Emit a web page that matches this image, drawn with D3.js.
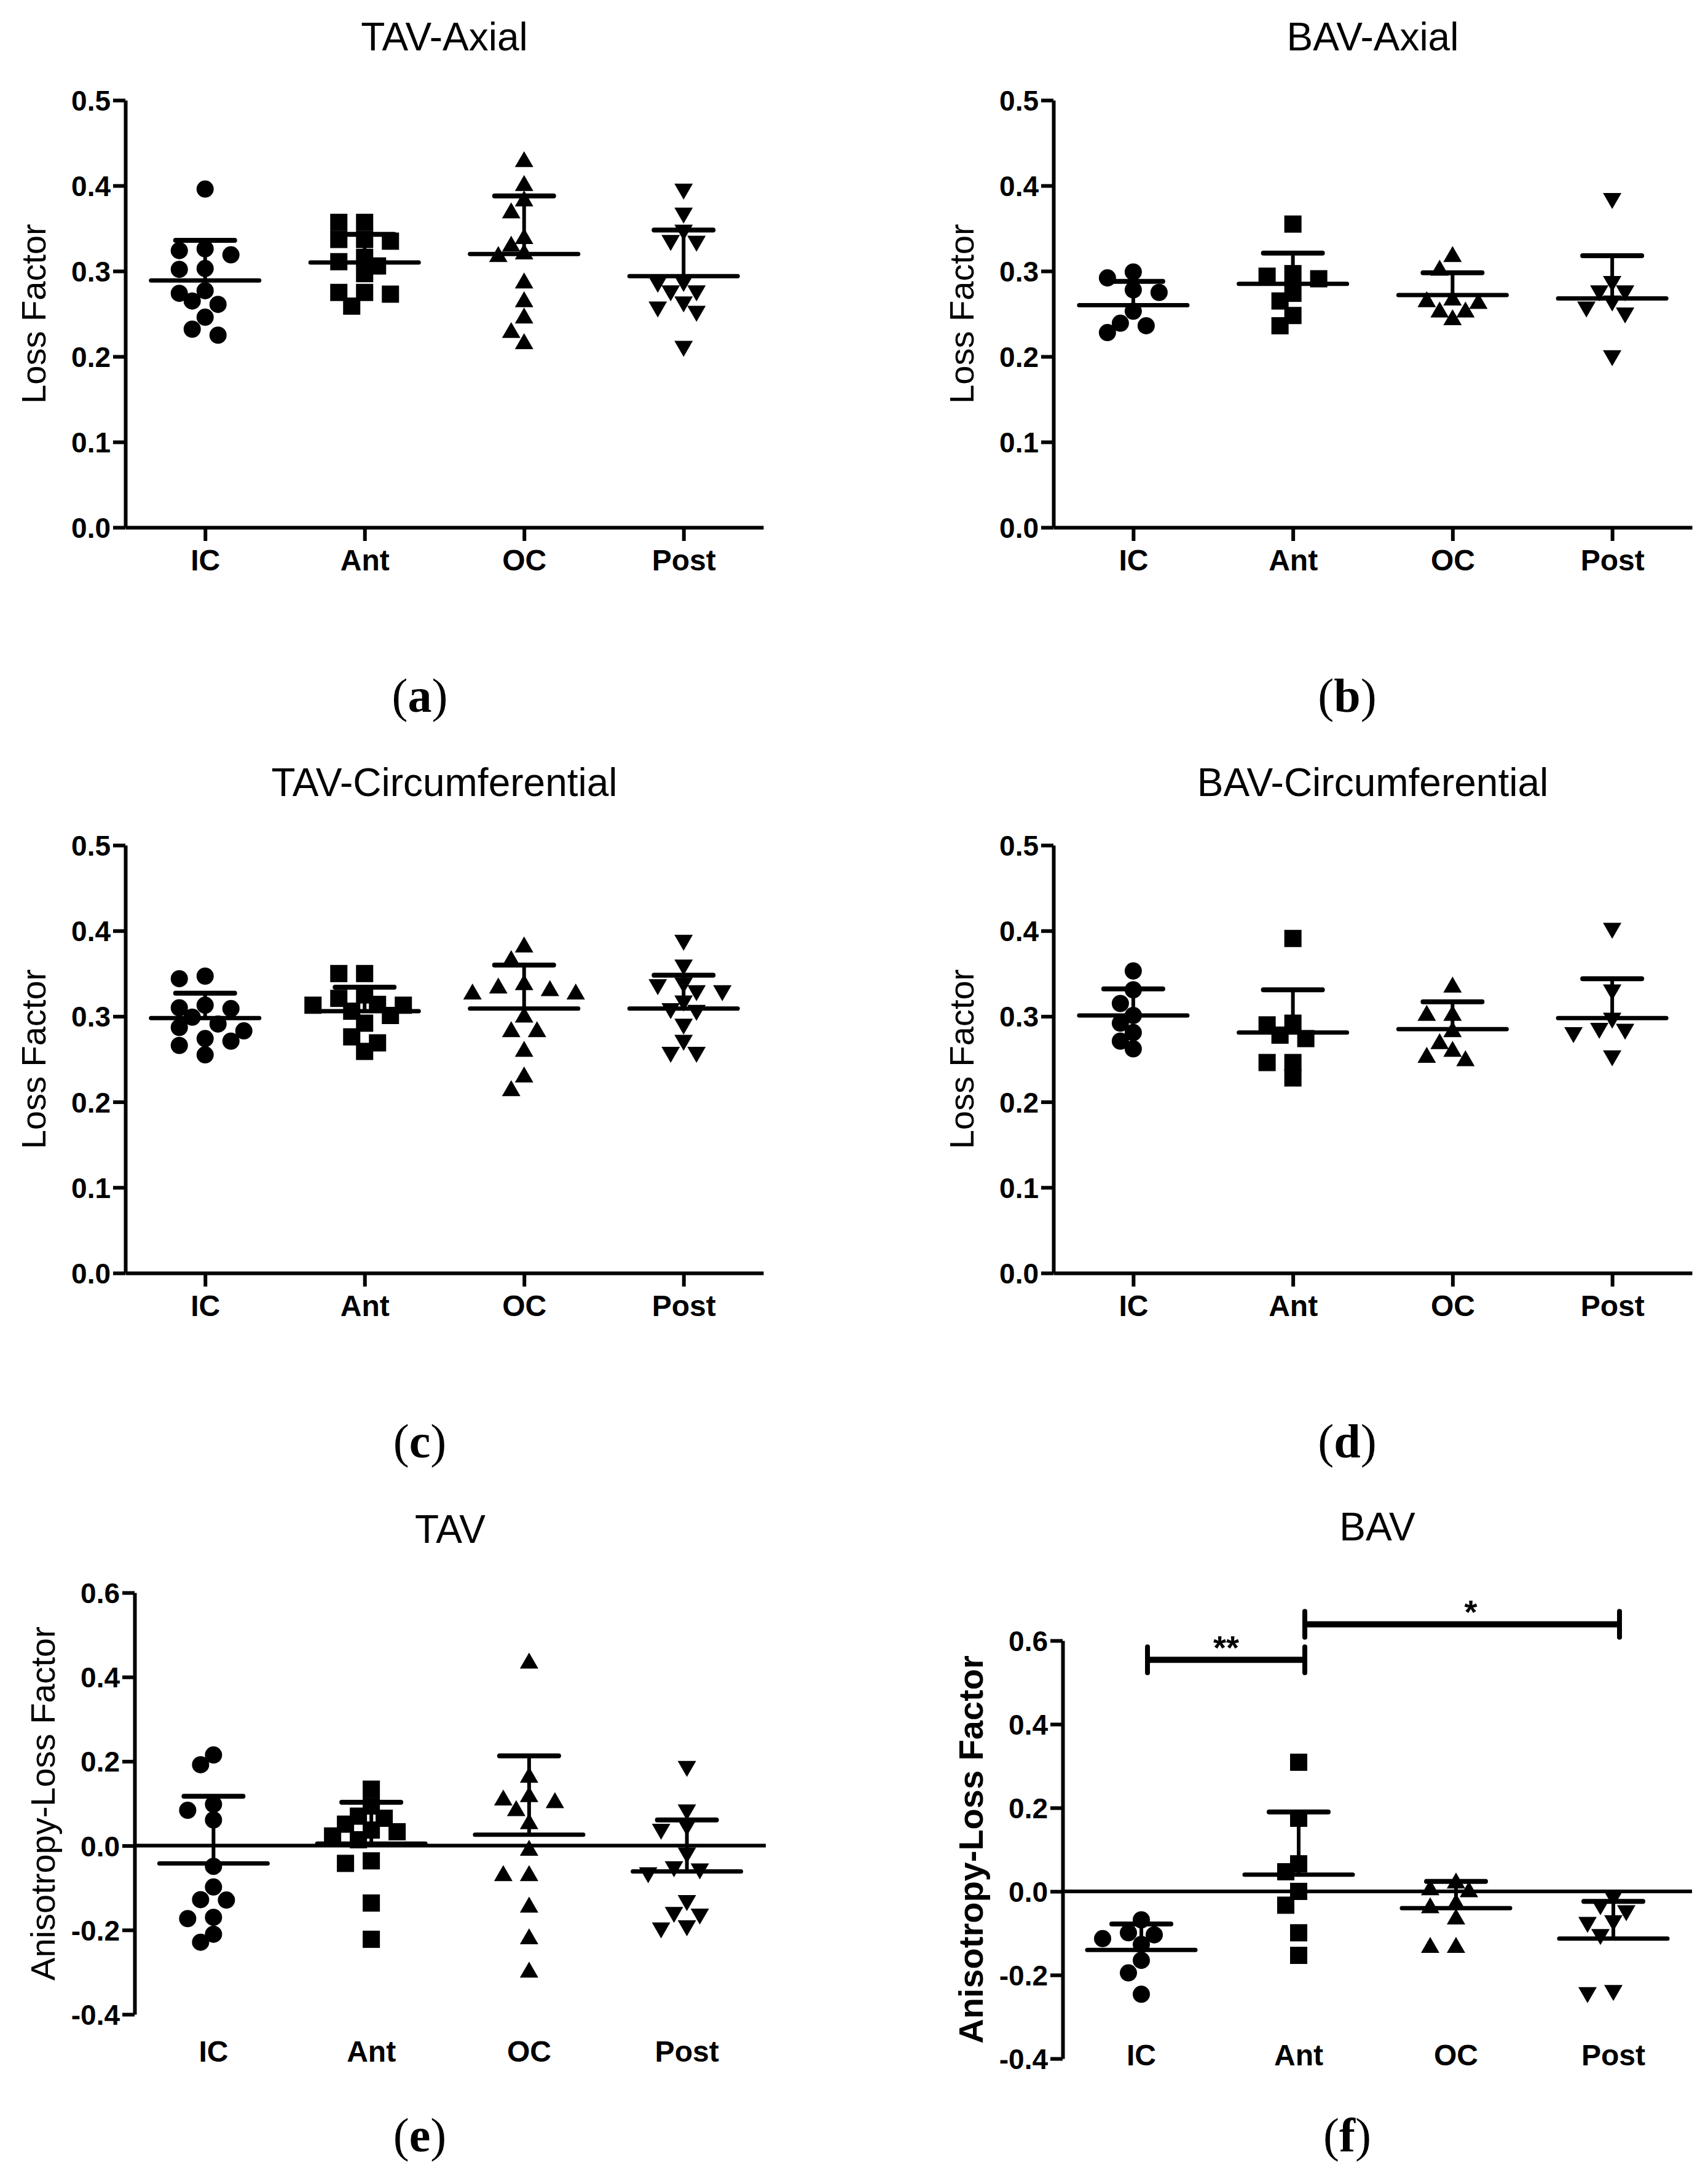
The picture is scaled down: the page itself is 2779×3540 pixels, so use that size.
<!DOCTYPE html>
<html lang="en">

<head>
  <meta charset="UTF-8">
  <title>Loss factor by region</title>
  <style>
    body { margin: 0; background: #fff; }
    text { font-family: "Liberation Sans", Arial, sans-serif; fill: #000; }
  </style>
</head>

<body>
  <svg width="2779" height="3540" class="figure"></svg>
  <script src="https://cdn.jsdelivr.net/npm/d3@7/dist/d3.min.js"></script>
  <script>
    const categories = ['IC', 'Ant', 'OC', 'Post']

    // (a) TAV-Axial
    const tavAxial = [
      [0.396, 0.326, 0.324, 0.319, 0.303, 0.302, 0.277, 0.274, 0.265, 0.261, 0.246, 0.232, 0.225],
      [0.357, 0.357, 0.337, 0.337, 0.335, 0.316, 0.311, 0.306, 0.297, 0.275, 0.275, 0.273, 0.259],
      [0.431, 0.403, 0.385, 0.371, 0.341, 0.332, 0.323, 0.320, 0.289, 0.267, 0.248, 0.231, 0.218],
      [0.393, 0.365, 0.345, 0.333, 0.332, 0.285, 0.284, 0.274, 0.274, 0.261, 0.255, 0.250, 0.209]
    ]
    const tavAxialMean = [0.289, 0.310, 0.320, 0.294]
    const tavAxialUpper = [0.336, 0.343, 0.388, 0.348]

    // (b) BAV-Axial
    const bavAxial = [
      [0.299, 0.292, 0.278, 0.275, 0.253, 0.239, 0.236, 0.228],
      [0.355, 0.297, 0.294, 0.291, 0.274, 0.265, 0.248, 0.236],
      [0.320, 0.304, 0.269, 0.267, 0.265, 0.255, 0.255, 0.246],
      [0.382, 0.285, 0.274, 0.274, 0.262, 0.255, 0.248, 0.198]
    ]
    const bavAxialMean = [0.260, 0.285, 0.272, 0.268]
    const bavAxialUpper = [0.288, 0.321, 0.298, 0.318]

    // (c) TAV-Circumferential
    const tavCirc = [
      [0.347, 0.344, 0.313, 0.310, 0.309, 0.299, 0.291, 0.287, 0.283, 0.274, 0.271, 0.266, 0.255],
      [0.350, 0.350, 0.325, 0.321, 0.314, 0.313, 0.313, 0.306, 0.301, 0.292, 0.276, 0.269, 0.259],
      [0.384, 0.368, 0.340, 0.336, 0.333, 0.329, 0.329, 0.302, 0.285, 0.285, 0.262, 0.232, 0.216],
      [0.386, 0.357, 0.336, 0.334, 0.327, 0.327, 0.315, 0.306, 0.304, 0.288, 0.269, 0.255, 0.255]
    ]
    const tavCircMean = [0.298, 0.306, 0.309, 0.309]
    const tavCircUpper = [0.327, 0.334, 0.360, 0.348]

    // (d) BAV-Circumferential
    const bavCirc = [
      [0.353, 0.331, 0.315, 0.301, 0.292, 0.281, 0.271, 0.262],
      [0.391, 0.292, 0.290, 0.278, 0.274, 0.246, 0.246, 0.228],
      [0.337, 0.304, 0.304, 0.285, 0.271, 0.262, 0.255, 0.251],
      [0.400, 0.328, 0.295, 0.283, 0.282, 0.278, 0.251]
    ]
    const bavCircMean = [0.301, 0.281, 0.285, 0.298]
    const bavCircUpper = [0.332, 0.331, 0.317, 0.344]

    // (e) TAV anisotropy
    const tavAniso = [
      [0.215, 0.192, 0.098, 0.084, 0.061, -0.049, -0.098, -0.128, -0.129, -0.170, -0.173, -0.210, -0.229],
      [0.134, 0.094, 0.070, 0.065, 0.051, 0.037, 0.033, 0.023, 0.014, -0.036, -0.042, -0.136, -0.222],
      [0.439, 0.168, 0.122, 0.114, 0.108, 0.089, 0.058, -0.005, -0.065, -0.065, -0.140, -0.215, -0.294],
      [0.182, 0.079, 0.042, 0.033, -0.023, -0.056, -0.061, -0.070, -0.136, -0.164, -0.168, -0.196, -0.201]
    ]
    const tavAnisoMean = [-0.042, 0.005, 0.026, -0.061]
    const tavAnisoUpper = [0.117, 0.103, 0.213, 0.061]

    // (f) BAV anisotropy
    const bavAniso = [
      [-0.068, -0.099, -0.104, -0.113, -0.127, -0.165, -0.195, -0.246],
      [0.309, 0.175, 0.066, 0.047, 0.000, -0.033, -0.099, -0.153],
      [0.026, 0.010, 0.005, -0.024, -0.033, -0.060, -0.128, -0.128],
      [-0.019, -0.038, -0.052, -0.076, -0.080, -0.109, -0.243, -0.248]
    ]
    const bavAnisoMean = [-0.140, 0.040, -0.040, -0.113]
    const bavAnisoUpper = [-0.078, 0.190, 0.024, -0.024]

    const lossTicks = [0, 0.1, 0.2, 0.3, 0.4, 0.5]
    const anisoTicks = [-0.4, -0.2, 0, 0.2, 0.4, 0.6]

    const sigPairs = [['IC', 'Ant'], ['Ant', 'Post']]
    const sigLevels = [0.554, 0.639]
    const sigLabels = ['**', '*']

    const svg = d3.select('.figure')

    const panels = [
      { letter: 'a', title: 'TAV-Axial', data: tavAxial, mean: tavAxialMean, upper: tavAxialUpper,
        yLabel: 'Loss Factor', domain: [0, 0.5], ticks: lossTicks,
        left: 204, right: 1242, top: 163, bottom: 858, titleY: 82, letterX: 683, letterY: 1158 },
      { letter: 'b', title: 'BAV-Axial', data: bavAxial, mean: bavAxialMean, upper: bavAxialUpper,
        yLabel: 'Loss Factor', domain: [0, 0.5], ticks: lossTicks,
        left: 1714, right: 2753, top: 163, bottom: 858, titleY: 82, letterX: 2192, letterY: 1158 },
      { letter: 'c', title: 'TAV-Circumferential', data: tavCirc, mean: tavCircMean, upper: tavCircUpper,
        yLabel: 'Loss Factor', domain: [0, 0.5], ticks: lossTicks,
        left: 204, right: 1242, top: 1375, bottom: 2071, titleY: 1295, letterX: 683, letterY: 2371 },
      { letter: 'd', title: 'BAV-Circumferential', data: bavCirc, mean: bavCircMean, upper: bavCircUpper,
        yLabel: 'Loss Factor', domain: [0, 0.5], ticks: lossTicks,
        left: 1714, right: 2753, top: 1375, bottom: 2071, titleY: 1295, letterX: 2192, letterY: 2371 },
      { letter: 'e', title: 'TAV', data: tavAniso, mean: tavAnisoMean, upper: tavAnisoUpper,
        yLabel: 'Anisotropy-Loss Factor', domain: [-0.4, 0.6], ticks: anisoTicks, zeroLine: true,
        left: 219, right: 1246, top: 2591, bottom: 3277, titleY: 2510, catY: 3354, letterX: 683, letterY: 3500 },
      { letter: 'f', title: 'BAV', data: bavAniso, mean: bavAnisoMean, upper: bavAnisoUpper,
        yLabel: 'Anisotropy-Loss Factor', boldLabel: true, domain: [-0.4, 0.6], ticks: anisoTicks, zeroLine: true,
        left: 1729, right: 2753, top: 2669, bottom: 3349, titleY: 2506, catY: 3360, letterX: 2192, letterY: 3500,
        sig: true }
    ]

    // place points of one column side by side when they would overlap (GraphPad-like)
    function swarm(values, cx, y, step, minDist) {
      const order = d3.range(values.length).sort((a, b) => values[b] - values[a])
      const placed = []
      const xs = []
      order.forEach(i => {
        const py = y(values[i])
        for (let k = 0; k < 30; k++) {
          const slot = k === 0 ? 0 : (k % 2 ? -Math.ceil(k / 2) : Math.ceil(k / 2))
          const px = cx + slot * step
          if (placed.every(q => Math.hypot(q[0] - px, q[1] - py) >= minDist)) {
            xs[i] = px
            placed.push([px, py])
            break
          }
        }
      })
      return xs
    }

    const circle = d3.symbol().type(d3.symbolCircle).size(616)()
    const square = d3.symbol().type(d3.symbolSquare).size(784)()
    const triangle = d3.symbol().type(d3.symbolTriangle).size(390)()

    function marker(g, ci, px, py) {
      if (ci === 0) g.append('path').attr('d', circle).attr('transform', `translate(${px},${py})`)
      if (ci === 1) g.append('path').attr('d', square).attr('transform', `translate(${px},${py})`)
      if (ci === 2) g.append('path').attr('d', triangle).attr('transform', `translate(${px},${py + 4.3})`)
      if (ci === 3) g.append('path').attr('d', triangle).attr('transform', `translate(${px},${py - 4.3}) rotate(180)`)
    }

    panels.forEach(p => {
      const g = svg.append('g').attr('class', 'panel-' + p.letter)

      const xScale = d3.scalePoint()
        .domain(categories)
        .range([p.left, p.right])
        .padding(0.5)

      const yScale = d3.scaleLinear()
        .domain(p.domain)
        .range([p.bottom, p.top])

      // y axis
      const yAxis = d3.axisLeft(yScale)
        .tickValues(p.ticks)
        .tickSize(20)
        .tickSizeOuter(0)
        .tickPadding(4)
        .tickFormat(d => d.toFixed(1))
      const ya = g.append('g')
        .attr('transform', `translate(${p.left}, 0)`)
        .call(yAxis)
        .attr('font-size', 46)
        .attr('font-weight', 'bold')
        .attr('font-family', '"Liberation Sans", Arial, sans-serif')
      ya.selectAll('path, line').attr('stroke-width', 6)
      ya.selectAll('.tick text').attr('dy', '0.36em')

      if (p.zeroLine) {
        g.append('line')
          .attr('x1', p.left).attr('x2', p.right)
          .attr('y1', yScale(0)).attr('y2', yScale(0))
          .attr('stroke', '#000').attr('stroke-width', 6)
        categories.forEach(c => {
          g.append('text')
            .text(c)
            .attr('x', xScale(c))
            .attr('y', p.catY)
            .attr('text-anchor', 'middle')
            .attr('font-size', 48)
            .attr('font-weight', 'bold')
        })
      } else {
        const xAxis = d3.axisBottom(xScale)
          .tickSize(22)
          .tickSizeOuter(0)
          .tickPadding(14)
        const xa = g.append('g')
          .attr('transform', `translate(0, ${p.bottom})`)
          .call(xAxis)
          .attr('font-size', 48)
          .attr('font-weight', 'bold')
          .attr('font-family', '"Liberation Sans", Arial, sans-serif')
        xa.selectAll('path, line').attr('stroke-width', 6)
      }

      // data points
      p.data.forEach((vals, ci) => {
        const cx = xScale(categories[ci])
        const xs = swarm(vals, cx, yScale, 21, 24)
        vals.forEach((v, i) => marker(g, ci, xs[i], yScale(v)))
      })

      // mean with upper SD bar
      p.mean.forEach((m, ci) => {
        const cx = xScale(categories[ci])
        g.append('line')
          .attr('x1', cx).attr('x2', cx)
          .attr('y1', yScale(m)).attr('y2', yScale(p.upper[ci]))
          .attr('stroke', '#000').attr('stroke-width', 6)
        g.append('line')
          .attr('x1', cx - 48).attr('x2', cx + 48)
          .attr('y1', yScale(p.upper[ci])).attr('y2', yScale(p.upper[ci]))
          .attr('stroke', '#000').attr('stroke-width', 8).attr('stroke-linecap', 'round')
        g.append('line')
          .attr('x1', cx - 88).attr('x2', cx + 88)
          .attr('y1', yScale(m)).attr('y2', yScale(m))
          .attr('stroke', '#000').attr('stroke-width', 7).attr('stroke-linecap', 'round')
      })

      // significance brackets
      if (p.sig) {
        sigPairs.forEach((pair, i) => {
          const x1 = xScale(pair[0]) + 10
          const x2 = xScale(pair[1]) + 10
          const yy = yScale(sigLevels[i])
          g.append('line')
            .attr('x1', x1).attr('x2', x2).attr('y1', yy).attr('y2', yy)
            .attr('stroke', '#000').attr('stroke-width', 10)
          ;[x1, x2].forEach(xx => {
            g.append('line')
              .attr('x1', xx).attr('x2', xx).attr('y1', yy - 21).attr('y2', yy + 21)
              .attr('stroke', '#000').attr('stroke-width', 8).attr('stroke-linecap', 'round')
          })
          g.append('text')
            .text(sigLabels[i])
            .attr('x', (x1 + x2) / 2 + (sigLabels[i].length === 1 ? 14 : 0))
            .attr('y', yy - 1)
            .attr('text-anchor', 'middle')
            .attr('font-size', 54)
            .attr('font-weight', 'bold')
        })
      }

      // title
      g.append('text')
        .text(p.title)
        .attr('x', (p.left + p.right) / 2)
        .attr('y', p.titleY)
        .attr('text-anchor', 'middle')
        .attr('font-size', 64)

      // y label
      g.append('text')
        .text(p.yLabel)
        .attr('transform', `translate(${p.left - 150}, ${(p.top + p.bottom) / 2}) rotate(-90)`)
        .attr('text-anchor', 'middle')
        .attr('dy', '0.36em')
        .attr('font-size', 56)
        .attr('font-weight', p.boldLabel ? 'bold' : 'normal')

      // panel letter
      const lt = g.append('text')
        .attr('x', p.letterX)
        .attr('y', p.letterY)
        .attr('text-anchor', 'middle')
        .attr('font-size', 78)
        .style('font-family', '"Liberation Serif", "Times New Roman", serif')
      lt.append('tspan').text('(')
      lt.append('tspan').text(p.letter).attr('font-weight', 'bold')
      lt.append('tspan').text(')')
    })
  </script>
</body>

</html>
